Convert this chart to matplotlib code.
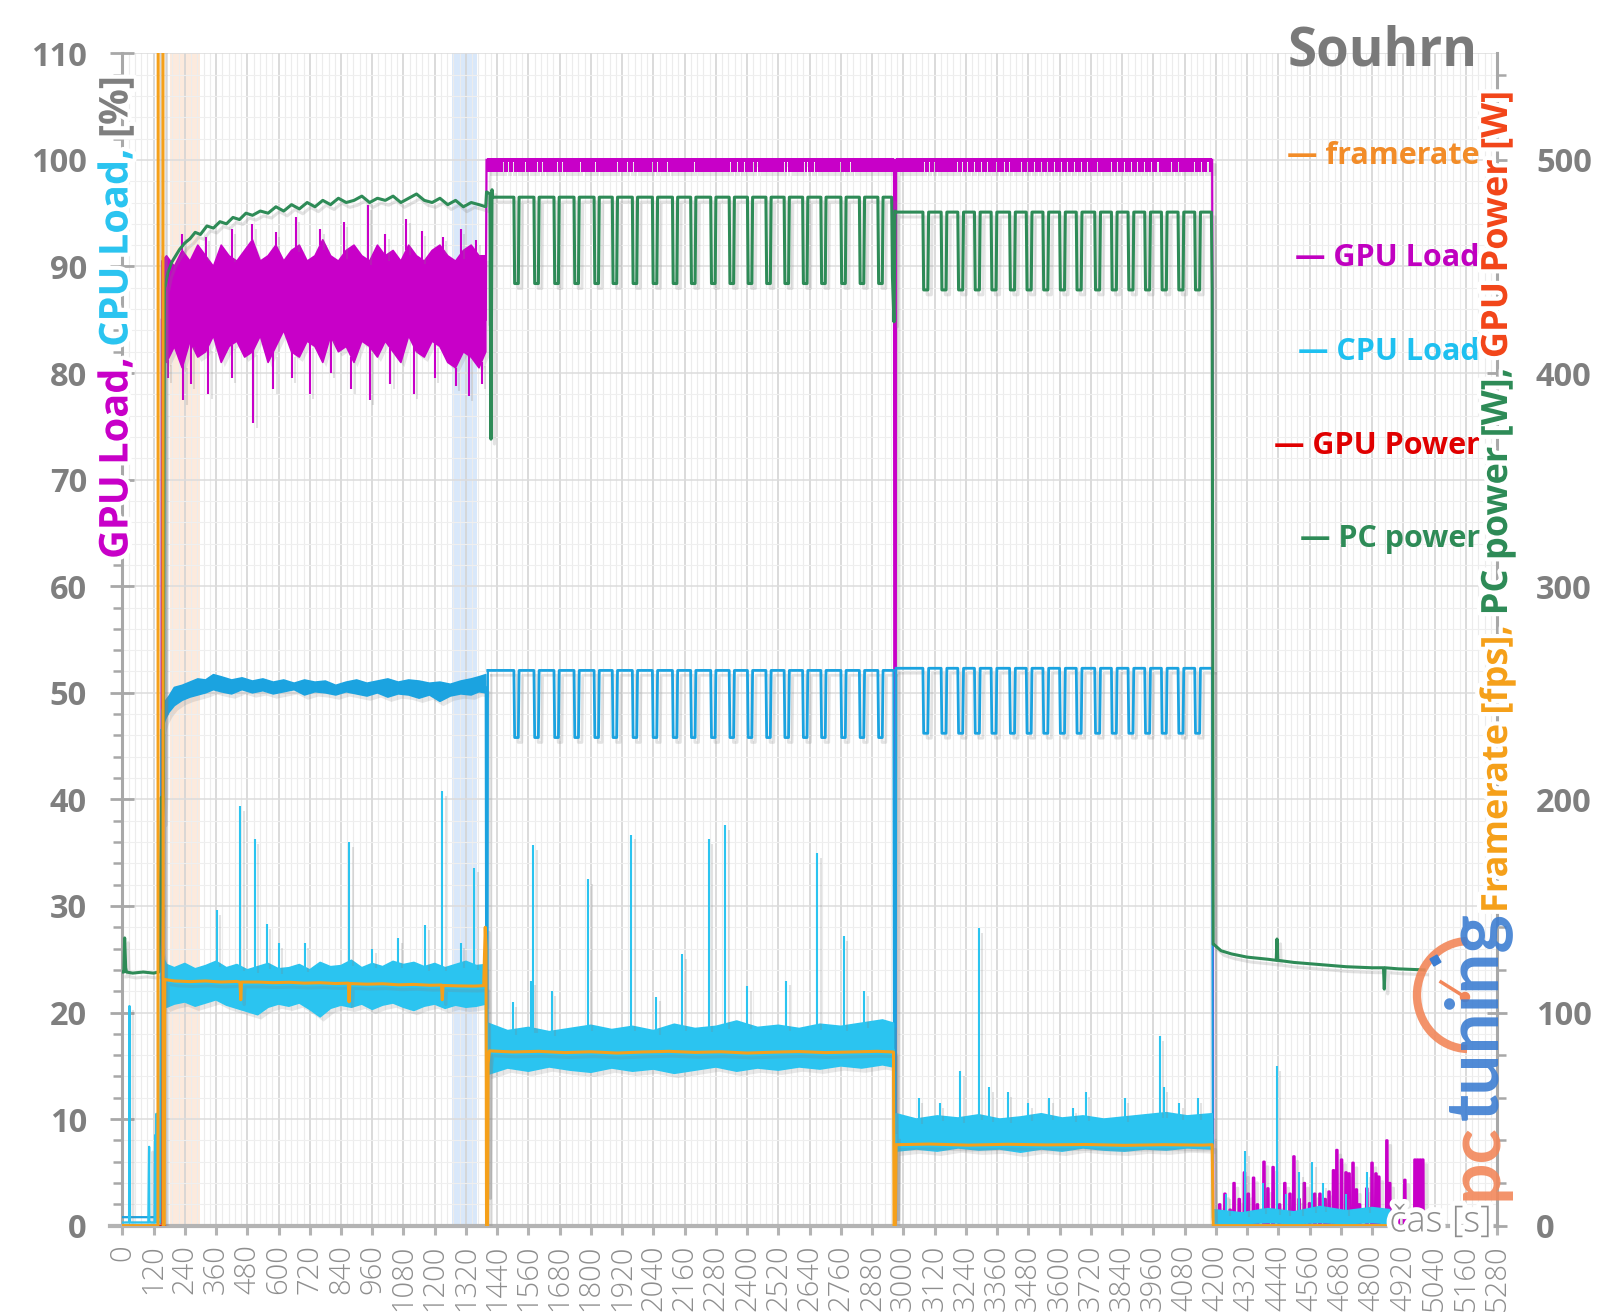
import numpy as np
import matplotlib
matplotlib.use("Agg")
import matplotlib.pyplot as plt
from matplotlib import patheffects as pe
from matplotlib.patches import Arc, Rectangle, Circle
from matplotlib.lines import Line2D
from matplotlib.transforms import IdentityTransform

plt.rcParams['font.family'] = ['Open Sans', 'DejaVu Sans']

# ---------------------------------------------------------------- data
x_ticks = list(range(0, 5281, 120))
left_ticks = list(range(0, 111, 10))
right_ticks = list(range(0, 501, 100))

legend_labels = ["framerate", "GPU Load", "CPU Load", "GPU Power", "PC power"]

# shaded intervals [s]
span_orange = (185, 300)
span_blue = (1265, 1362)

# --- PC power [W] (right axis)
pc_idle_t = [0, 6, 9, 13, 16, 40, 80, 120, 140, 146, 150, 154, 158, 162]
pc_idle_v = [119, 119, 135, 121, 119, 118.5, 119, 118.5, 119, 150, 201, 190, 205, 440]
pc_s1_t = [165, 175, 190, 205, 220, 240, 260, 280, 300, 325, 350, 375, 400, 425, 450, 475,
           500, 530, 560, 590, 620, 650, 680, 710, 740, 770, 800, 830, 860, 890, 920, 950,
           980, 1010, 1040, 1070, 1100, 1130, 1160, 1190, 1220, 1250, 1280, 1310, 1340, 1370, 1396]
pc_s1_v = [441, 447, 452, 455, 458, 461, 463, 466, 465, 469, 468, 471, 470, 473, 472, 475,
           474, 476, 475, 478, 476, 479, 477, 480, 478, 481, 479, 482, 480, 481, 483, 480,
           482, 481, 483, 480, 482, 484, 481, 480, 482, 479, 481, 478, 480, 479, 478]
pc_tr1_t = [1399, 1412, 1416, 1420]
pc_tr1_v = [485, 484, 369, 486]
pc_s2_hi, pc_s2_lo = 482.5, 442
dips_s2 = [1504, 1581, 1658, 1735, 1812, 1882, 1959, 2036, 2113, 2183, 2260, 2331,
           2401, 2472, 2542, 2613, 2683, 2760, 2831, 2902]
pc_tr2_t = [2958, 2964, 2968]
pc_tr2_v = [445, 424, 476]
pc_s3_hi, pc_s3_lo = 475.5, 439
dips_s3 = [3075, 3145, 3209, 3273, 3337, 3408, 3472, 3536, 3600, 3664, 3735, 3799,
           3863, 3927, 3991, 4055, 4119]
pc_tr3_t = [4186, 4190]
pc_tr3_v = [440, 132]
pc_s4_t = [4192, 4220, 4260, 4320, 4400, 4432, 4435, 4438, 4500, 4600, 4700, 4800, 4844, 4847, 4850, 4900, 5000]
pc_s4_v = [132, 129, 127.5, 126, 125, 124.5, 134.5, 124.5, 123.5, 122.5, 121.5, 121, 121, 111, 121, 120.5, 120]

# --- GPU power [W] (right axis)
gpu_pw_t = [0, 154, 155, 157, 158, 165]
gpu_pw_v = [0, 0, 455, 455, 0, 0]

# --- framerate [fps] (right axis)
fps_idle_t = [0, 137, 138, 156, 157, 161, 163]
fps_idle_v = [0, 0, 700, 700, 0, 0, 115.5]
fps_s1_t = [163, 200, 260, 320, 380, 440, 452, 455, 458, 520, 580, 640, 700, 760, 820, 868, 871,
            874, 940, 1000, 1060, 1120, 1180, 1226, 1229, 1232, 1290, 1350, 1388, 1394, 1397]
fps_s1_v = [115.5, 114.8, 114.5, 114.8, 114.3, 114.6, 114.2, 106, 114.3, 114.3, 114.0, 114.2,
            113.8, 114.0, 113.6, 113.8, 105, 113.6, 113.3, 113.5, 113.0, 113.2, 112.8, 112.9,
            106, 112.7, 112.5, 112.4, 112.6, 140, 130]
fps_tr1_t = [1399, 1403, 1405, 1410]
fps_tr1_v = [0, 0, 76, 82]
fps_s2_t = [1410, 1500, 1600, 1700, 1800, 1900, 2000, 2100, 2200, 2300, 2400, 2500, 2600,
            2700, 2800, 2900, 2962]
fps_s2_v = [82, 81.5, 81.8, 81.2, 81.6, 81.0, 81.5, 81.8, 81.3, 81.6, 81.0, 81.4, 81.7,
            81.2, 81.5, 81.8, 81.5]
fps_tr2_t = [2964, 2969]
fps_tr2_v = [0, 0]
fps_s3_t = [2972, 3100, 3250, 3400, 3550, 3700, 3850, 4000, 4150, 4186]
fps_s3_v = [38, 38.3, 37.8, 38.2, 37.9, 38.1, 37.7, 38.0, 37.8, 38.0]
fps_s4_t = [4190, 4868]
fps_s4_v = [0, 0]

# --- GPU load [%] (left axis)
gpu_idle_t = [0, 150, 152]
gpu_idle_v = [0, 0, 85]
gpu_s1_t = [152, 170, 200, 230, 260, 290, 320, 350, 380, 410, 440, 470, 500, 530, 560, 590,
            620, 650, 680, 710, 740, 770, 800, 830, 860, 890, 920, 950, 980, 1010, 1040, 1070,
            1100, 1130, 1160, 1190, 1220, 1250, 1280, 1310, 1340, 1370, 1396]
gpu_s1_hi = [90.5, 91.0, 90.0, 91.5, 90.5, 92.0, 91.0, 90.0, 92.0, 91.0,
             90.5, 91.5, 92.5, 90.5, 91.0, 92.0, 90.5, 91.5, 92.0, 90.5,
             91.0, 92.5, 91.0, 90.5, 91.5, 92.0, 91.0, 90.5, 92.0, 91.0,
             91.5, 90.5, 92.0, 91.0, 90.5, 91.5, 92.0, 91.0, 90.5, 91.5,
             92.0, 91.0, 91.0]
gpu_s1_lo = [83.0, 81.0, 82.5, 80.5, 83.0, 81.5, 82.0, 83.5, 81.0, 82.5,
             83.0, 81.5, 82.0, 83.5, 81.0, 82.5, 84.0, 82.0, 81.5, 83.0,
             82.5, 81.0, 83.5, 82.0, 82.5, 81.0, 83.0, 82.5, 81.5, 83.0,
             82.0, 81.0, 83.5, 82.0, 81.5, 83.0, 82.5, 81.0, 80.5, 82.0,
             81.5, 80.5, 82.0]
gpu_up_t = [230, 320, 420, 500, 590, 667, 760, 850, 942, 1010, 1090, 1150, 1230, 1300, 1360]
gpu_up_v = [93, 92.8, 93.5, 94, 93.2, 94.6, 93.5, 94.2, 95.8, 93, 94.5, 93.3, 92.8, 93.5, 92.5]
gpu_dn_t = [175, 235, 262, 330, 420, 503, 580, 650, 720, 800, 880, 950, 1030, 1120, 1200, 1280, 1330, 1380]
gpu_dn_v = [79.5, 77.5, 79, 78, 79.5, 75.3, 78.5, 79.5, 78, 80, 78.5, 77.5, 79, 78, 79.5, 78.8, 77.8, 79]
gpu_tr1_t = [1396, 1399]
gpu_tr1_v = [85, 100]
gpu_full, gpu_band_low = 100, 98.9
gpu_notch_s2 = [1465, 1485, 1504, 1549, 1593, 1613, 1670, 1690, 1760, 1818, 1901, 1940, 1965,
                2036, 2055, 2093, 2196, 2337, 2362, 2388, 2426, 2439, 2542, 2555, 2619, 2632,
                2657, 2760, 2798]
gpu_tr2_t = [2964, 2966, 2970, 2972]
gpu_tr2_v = [100, 0, 0, 100]
gpu_notch_s3 = [3081, 3100, 3119, 3209, 3228, 3247, 3273, 3299, 3324, 3356, 3388, 3408, 3452,
                3478, 3504, 3529, 3555, 3581, 3606, 3632, 3657, 3683, 3709, 3747, 3799, 3824,
                3850, 3876, 3901, 3927, 3952, 3978, 4029, 4055, 4119, 4145, 4170]
gpu_tr3_t = [4186, 4187, 4190]
gpu_tr3_v = [100, 88, 0]
gpu_s4_t = [4215, 4235, 4255, 4270, 4290, 4310, 4325, 4345, 4360, 4385, 4400, 4420, 4445,
            4465, 4485, 4500, 4520, 4540, 4560, 4580, 4600, 4620, 4635, 4652, 4665, 4683,
            4700, 4712, 4727, 4740, 4752, 4780, 4800, 4815, 4826, 4857, 4868, 4900, 4926,
            4965, 4975, 4985, 4995]
gpu_s4_v = [2, 3, 1.5, 4, 2.5, 5, 3, 4.5, 2, 6, 3.5, 5.5, 2, 4, 3, 6.5, 2.5, 4, 2.1, 3, 3,
            2.5, 3.2, 5.2, 7.1, 6.2, 5, 4.9, 5.9, 3.4, 2, 3.5, 5.9, 4.9, 4.6, 8, 4, 2, 4.3,
            6.2, 6.2, 6.2, 6.2]

# --- CPU load, upper trace [%] (left axis)
cput_idle_t = [0, 146, 150]
cput_idle_v = [0.8, 0.8, 46.5]
cput_s1_t = [152, 165, 180, 200, 230, 260, 290, 320, 350, 380, 420, 460, 500, 540, 580, 620,
             660, 700, 740, 780, 820, 860, 900, 940, 980, 1020, 1060, 1100, 1140, 1180, 1220,
             1260, 1300, 1340, 1370, 1396]
cput_s1_lo = [46.5, 47.5, 48.2, 48.8, 49.3, 49.6, 49.8, 50.0, 50.3, 50.1, 49.9, 50.3, 50.0, 50.2,
              49.9, 50.1, 50.3, 49.8, 50.1, 50.0, 49.8, 50.1, 49.9, 49.7, 50.0, 49.6, 49.9, 49.8,
              49.5, 49.8, 49.2, 49.7, 49.9, 49.8, 50.1, 50.0]
cput_s1_hi = [48.3, 49.2, 49.7, 50.5, 50.7, 51.0, 51.3, 51.2, 51.7, 51.5, 51.2, 51.4, 51.1, 51.3,
              51.0, 51.2, 50.9, 51.2, 51.0, 51.1, 50.7, 51.0, 51.2, 50.9, 51.1, 51.3, 51.0, 51.2,
              51.1, 50.9, 51.0, 50.8, 51.1, 51.3, 51.5, 51.7]
cput_tr1_t = [1396, 1399, 1402, 1404]
cput_tr1_v = [50.5, 3, 3, 52.1]
cput_s2_hi, cput_s2_lo = 52.1, 45.8
cput_tr2_t = [2962, 2965, 2970, 2972]
cput_tr2_v = [52.1, 1, 1, 52.3]
cput_s3_hi, cput_s3_lo = 52.3, 46.2
cput_tr3_t = [4186, 4189, 4868]
cput_tr3_v = [52.3, 0.5, 0.5]

# --- CPU load, lower trace [%] (left axis)
cpul_idle_t = [0, 26, 27, 28, 29, 100, 103, 104, 105, 124, 126, 127, 128, 131, 133, 134, 146, 150]
cpul_idle_v = [0.3, 0.3, 20.6, 20.6, 0.3, 0.3, 7.4, 0.3, 0.3, 0.3, 8.5, 0.3, 0.3, 10.5, 0.3, 0.3, 0.3, 30]
cpul_s1_t = [152, 160, 170, 200, 240, 280, 320, 360, 400, 440, 480, 520, 560, 600, 640, 680, 720,
             760, 800, 840, 880, 920, 960, 1000, 1040, 1080, 1120, 1160, 1200, 1240, 1280, 1320,
             1360, 1396]
cpul_s1_lo = [20, 21, 20.5, 20.8, 21, 20.6, 20.9, 21.2, 20.7, 20.4, 20.1, 19.8, 20.5, 20.8, 20.6,
              20.9, 20.3, 19.6, 20.4, 20.7, 20.5, 20.8, 20.3, 20.7, 20.9, 20.5, 20.2, 20.6, 20.8,
              20.4, 20.7, 20.5, 20.6, 20.8]
cpul_s1_hi = [26, 25, 24.5, 24.2, 24.6, 24.1, 24.4, 24.8, 24.2, 24.5, 24.0, 24.3, 24.6, 24.1, 24.2,
              24.5, 24.0, 24.7, 24.3, 24.4, 24.9, 24.2, 24.6, 24.3, 24.8, 24.5, 24.7, 24.3, 24.6,
              24.2, 24.5, 24.8, 24.4, 24.5]
cpul_sp1_t = [363, 453, 508, 555, 600, 700, 872, 960, 1060, 1163, 1229, 1300, 1351]
cpul_sp1_v = [29.6, 39.4, 36.3, 28.3, 26.5, 26.5, 36.0, 26.0, 27.0, 28.2, 40.8, 26.5, 33.6]
cpul_tr1_t = [1396, 1399, 1402, 1405]
cpul_tr1_v = [22.5, 3, 3, 16.5]
cpul_s2_t = [1404, 1480, 1560, 1640, 1720, 1800, 1880, 1960, 2040, 2120, 2200, 2280, 2360, 2440,
             2520, 2600, 2680, 2760, 2840, 2920, 2962]
cpul_s2_lo = [14.2, 14.8, 14.5, 14.9, 14.6, 14.4, 14.8, 14.5, 14.7, 14.3, 14.6, 14.9, 14.5, 14.8,
              14.6, 14.9, 14.7, 15.0, 14.8, 15.1, 14.9]
cpul_s2_hi = [19, 18.3, 18.6, 18.2, 18.5, 18.8, 18.4, 18.7, 18.3, 18.9, 18.5, 18.7, 19.2, 18.6,
              18.8, 18.5, 18.9, 18.7, 19.0, 19.3, 19.0]
cpul_sp2_t = [1500, 1570, 1578, 1650, 1790, 1955, 2050, 2151, 2253, 2316, 2400, 2550, 2669, 2771, 2850]
cpul_sp2_v = [21, 23.0, 35.7, 22, 32.5, 36.7, 21.5, 25.5, 36.3, 37.6, 22.5, 23, 35.0, 27.2, 22]
cpul_tr2_t = [2962, 2965, 2970, 2973]
cpul_tr2_v = [16.5, 1, 1, 8.5]
cpul_s3_t = [2972, 3050, 3130, 3210, 3290, 3370, 3450, 3530, 3610, 3690, 3770, 3850, 3930, 4010,
             4090, 4186]
cpul_s3_lo = [7.0, 7.2, 7.0, 7.3, 7.1, 7.2, 6.9, 7.2, 7.0, 7.3, 7.1, 7.0, 7.2, 7.1, 7.3, 7.2]
cpul_s3_hi = [10.5, 10.0, 10.3, 10.1, 10.4, 10.0, 10.2, 10.5, 10.1, 10.3, 10.0, 10.2, 10.4, 10.6,
              10.3, 10.5]
cpul_sp3_t = [3060, 3140, 3219, 3289, 3330, 3400, 3480, 3560, 3650, 3700, 3850, 3984, 4000, 4060, 4130]
cpul_sp3_v = [12, 11.5, 14.5, 27.9, 13, 12.5, 11.5, 12, 11, 12.5, 12, 17.8, 13, 11.5, 12]
cpul_tr3_t = [4186, 4189]
cpul_tr3_v = [8.5, 0.8]
cpul_s4_t = [4190, 4300, 4400, 4500, 4600, 4700, 4800, 4868]
cpul_s4_lo = [0.2, 0.2, 0.3, 0.2, 0.3, 0.2, 0.3, 0.2]
cpul_s4_hi = [1.5, 1.2, 1.6, 1.3, 1.8, 1.4, 1.7, 1.5]
cpul_sp4_t = [4240, 4313, 4380, 4435, 4470, 4520, 4570, 4610, 4700, 4780]
cpul_sp4_v = [3, 7, 4, 15, 3, 5, 6, 4, 3, 5]

# ---------------------------------------------------------------- style
C_GPU = '#C800C8'
C_PC = '#2E8B57'
C_CPU = '#2BC4F0'
C_CPU_TOP = '#1BA3E0'
C_FPS = '#F5A01A'
C_GPUP = '#E00000'
GRAY = '#7F7F7F'
XGRAY = '#8E8E8E'
DIP_LEN2, DIP_LEN3, RAMP = 20, 22, 3
NOTCH_W = 4
BAR_HALF = 3

SH_LINE = [pe.SimpleLineShadow(offset=(2.5, -3.5), shadow_color='#808080', alpha=0.22), pe.Normal()]
SH_POLY = [pe.SimplePatchShadow(offset=(2.5, -3.5), shadow_rgbFace='#808080', alpha=0.18), pe.Normal()]


def square(t0, t1, dips, dur, hi, lo):
    t, v = [t0], [hi]
    for d in dips:
        t += [d, d + RAMP, d + dur - RAMP, d + dur]
        v += [hi, lo, lo, hi]
    t.append(t1)
    v.append(hi)
    return t, v


def notched(t0, t1, notches, base, top):
    t, lo = [t0], [base]
    for n in notches:
        t += [n - NOTCH_W / 2, n - NOTCH_W / 2, n + NOTCH_W / 2, n + NOTCH_W / 2]
        lo += [base, top, top, base]
    t.append(t1)
    lo.append(base)
    return t, lo


def bars(times, vals):
    t, v = [], []
    for a, b in zip(times, vals):
        t += [a - BAR_HALF, a - BAR_HALF + 1, a + BAR_HALF - 1, a + BAR_HALF]
        v += [0, b, b, 0]
    return t, v


def line(axx, t, v, color, lw=1.6, z=3):
    axx.plot(t, v, color=color, lw=lw, zorder=z, path_effects=SH_LINE, solid_joinstyle='round')


def band(axx, t, lo, hi, color, z=3):
    axx.fill_between(t, lo, hi, facecolor=color, edgecolor=color, lw=1.2, zorder=z,
                     path_effects=SH_POLY)


def spikes(axx, t, base_t, base_v, v, color, z=3):
    base = np.interp(t, base_t, base_v)
    lc = axx.vlines(t, base, v, colors=color, lw=1.5, zorder=z)
    lc.set_path_effects(SH_LINE)


FW, FH = 1600, 1314
fig = plt.figure(figsize=(FW / 100, FH / 100), dpi=100, facecolor='white')
ax = fig.add_axes([122.3 / FW, 88.3 / FH, 1374.7 / FW, 1172.4 / FH])
ax2 = ax.twinx()

ax.set_xlim(0, 5280)
ax.set_ylim(0, 110)
ax2.set_ylim(0, 550)

# spans
ax.axvspan(*span_orange, color='#FBE3D2', alpha=0.75, zorder=0.2, lw=0)
ax.axvspan(*span_blue, color='#D3E4FA', alpha=0.85, zorder=0.2, lw=0)

# grid
ax.set_axisbelow(True)
ax.set_xticks(x_ticks)
ax.set_xticks(np.arange(0, 5281, 24), minor=True)
ax.set_yticks(left_ticks)
ax.set_yticks(np.arange(0, 111, 2), minor=True)
ax2.set_yticks(right_ticks)
ax2.set_yticks(np.arange(0, 551, 20), minor=True)
ax.grid(which='major', axis='x', color='#d4d4d4', lw=1.2)
ax.grid(which='minor', axis='x', color='#ececec', lw=0.8)
ax.grid(which='major', axis='y', color='#dcdcdc', lw=1.1)
ax.grid(which='minor', axis='y', color='#efefef', lw=0.8)

# ---- left-axis series
# GPU load
line(ax, gpu_idle_t, gpu_idle_v, C_GPU, z=2)
band(ax, gpu_s1_t, gpu_s1_lo, gpu_s1_hi, C_GPU, z=2)
spikes(ax, gpu_up_t, gpu_s1_t, gpu_s1_hi, gpu_up_v, C_GPU, z=2)
spikes(ax, gpu_dn_t, gpu_s1_t, gpu_s1_lo, gpu_dn_v, C_GPU, z=2)
line(ax, gpu_tr1_t, gpu_tr1_v, C_GPU, z=2)
nt, nlo = notched(1399, 2964, gpu_notch_s2, gpu_band_low, gpu_full - 0.2)
ax.fill_between(nt, nlo, gpu_full + 0.15, color=C_GPU, lw=0, zorder=2, path_effects=SH_POLY)
line(ax, gpu_tr2_t, gpu_tr2_v, C_GPU, z=2)
nt, nlo = notched(2972, 4186, gpu_notch_s3, gpu_band_low, gpu_full - 0.2)
ax.fill_between(nt, nlo, gpu_full + 0.15, color=C_GPU, lw=0, zorder=2, path_effects=SH_POLY)
line(ax, gpu_tr3_t, gpu_tr3_v, C_GPU, z=2)
bt, bv = bars(gpu_s4_t, gpu_s4_v)
line(ax, [4190] + bt, [0] + bv, C_GPU, lw=1.8, z=2)

# CPU load upper trace
line(ax, cput_idle_t, cput_idle_v, C_CPU_TOP)
band(ax, cput_s1_t, cput_s1_lo, cput_s1_hi, C_CPU_TOP)
line(ax, cput_tr1_t, cput_tr1_v, C_CPU_TOP)
t2, v2 = square(1404, 2962, dips_s2, DIP_LEN2, cput_s2_hi, cput_s2_lo)
line(ax, t2, v2, C_CPU_TOP, lw=2)
line(ax, cput_tr2_t, cput_tr2_v, C_CPU_TOP)
t3, v3 = square(2972, 4186, dips_s3, DIP_LEN3, cput_s3_hi, cput_s3_lo)
line(ax, t3, v3, C_CPU_TOP, lw=2)
line(ax, cput_tr3_t, cput_tr3_v, C_CPU_TOP)

# CPU load lower trace
line(ax, cpul_idle_t, cpul_idle_v, C_CPU, z=3)
for st, slo, shi, spt, spv in [(cpul_s1_t, cpul_s1_lo, cpul_s1_hi, cpul_sp1_t, cpul_sp1_v),
                               (cpul_s2_t, cpul_s2_lo, cpul_s2_hi, cpul_sp2_t, cpul_sp2_v),
                               (cpul_s3_t, cpul_s3_lo, cpul_s3_hi, cpul_sp3_t, cpul_sp3_v),
                               (cpul_s4_t, cpul_s4_lo, cpul_s4_hi, cpul_sp4_t, cpul_sp4_v)]:
    band(ax, st, slo, shi, C_CPU)
    spikes(ax, spt, st, shi, spv, C_CPU)
line(ax, cpul_tr1_t, cpul_tr1_v, C_CPU)
line(ax, cpul_tr2_t, cpul_tr2_v, C_CPU)
line(ax, cpul_tr3_t, cpul_tr3_v, C_CPU)

# ---- right-axis series
line(ax2, gpu_pw_t, gpu_pw_v, C_GPUP, lw=1.2, z=1)
pc_t2, pc_v2 = square(1422, 2955, dips_s2, DIP_LEN2, pc_s2_hi, pc_s2_lo)
pc_t3, pc_v3 = square(2972, 4183, dips_s3, DIP_LEN3, pc_s3_hi, pc_s3_lo)
pc_t = pc_idle_t + pc_s1_t + pc_tr1_t + pc_t2 + pc_tr2_t + pc_t3 + pc_tr3_t + pc_s4_t
pc_v = pc_idle_v + pc_s1_v + pc_tr1_v + pc_v2 + pc_tr2_v + pc_v3 + pc_tr3_v + pc_s4_v
line(ax2, pc_t, pc_v, C_PC, lw=2.2, z=2)

fps_t = fps_idle_t + fps_s1_t + fps_tr1_t + fps_s2_t + fps_tr2_t + fps_s3_t + fps_s4_t
fps_v = fps_idle_v + fps_s1_v + fps_tr1_v + fps_s2_v + fps_tr2_v + fps_s3_v + fps_s4_v
line(ax2, fps_t, fps_v, C_FPS, lw=2.2, z=3)

# ---------------------------------------------------------------- axes styling
for s in ['top', 'right']:
    ax.spines[s].set_visible(False)
for s in ['top', 'left', 'bottom']:
    ax2.spines[s].set_visible(False)
ax.spines['left'].set_color('#a8a8a8')
ax.spines['left'].set_linewidth(2.2)
ax.spines['bottom'].set_color('#b4b4b4')
ax.spines['bottom'].set_linewidth(3)
ax.spines['bottom'].set_bounds(-47, 5280)
ax.spines['bottom'].set_clip_on(False)
ax2.spines['right'].set_color('#a8a8a8')
ax2.spines['right'].set_linewidth(2.2)

ax.set_xticklabels([str(v) for v in x_ticks], rotation=90, fontsize=21,
                   fontweight='light', color=XGRAY)
ax.set_yticklabels([str(v) for v in left_ticks], fontsize=23.5, fontweight='bold', color=GRAY)
ax2.set_yticklabels([str(v) for v in right_ticks], fontsize=23.5, fontweight='bold', color=GRAY)
ax.tick_params(axis='x', which='major', direction='out', length=6.5, width=2.2,
               color='#b4b4b4', pad=7)
ax.tick_params(axis='x', which='minor', length=0)
ax.tick_params(axis='y', which='major', direction='inout', length=17, width=2,
               color='#a8a8a8', pad=17)
ax.tick_params(axis='y', which='minor', direction='out', length=6.5, width=1.8, color='#a8a8a8')
ax2.tick_params(axis='y', which='major', direction='inout', length=14, width=2,
                color='#a8a8a8', pad=21)
ax2.tick_params(axis='y', which='minor', direction='out', length=6.5, width=1.8, color='#a8a8a8')

# ---------------------------------------------------------------- texts
renderer = fig.canvas.get_renderer()


def text_w(s, size, weight='bold', family=None):
    kw = {} if family is None else {'family': family}
    t = fig.text(0, 0, s, fontsize=size, fontweight=weight, **kw)
    w = t.get_window_extent(renderer).width
    t.remove()
    return w


def stacked_label(x_px, y0_px, pieces, length_px):
    sp10 = text_w('x x', 10) - text_w('xx', 10)
    tot10 = sum(text_w(s, 10) for s, _ in pieces) + sp10 * (len(pieces) - 1)
    size = 10 * length_px / tot10
    sp = sp10 * size / 10
    y = y0_px
    for s, c in pieces:
        fig.text(x_px / FW, y / FH, s, rotation=90, rotation_mode='anchor', ha='left',
                 va='center', fontsize=size, fontweight='bold', color=c, zorder=10,
                 path_effects=[pe.withStroke(linewidth=6, foreground='white')])
        y += text_w(s, size) + sp


stacked_label(117, FH - 559, [("GPU Load,", C_GPU), ("CPU Load,", C_CPU), ("[%]", GRAY)], 482)
stacked_label(1498, FH - 913, [("Framerate [fps],", C_FPS), ("PC power [W],", C_PC),
                               ("GPU Power [W]", '#F2461A')], 823)

# title
fig.text(1478 / FW, 1 - 66 / FH, "Souhrn", ha='right', va='baseline', fontsize=38,
         fontweight='bold', color='#7a7a7a')

# legend (text entries, right aligned)
leg_colors = ['#F28C28', '#C000C0', '#1EC0F0', '#E00000', '#2E8B57']
leg_y = [0.912, 0.825, 0.745, 0.665, 0.586]
for lab, col, yy in zip(legend_labels, leg_colors, leg_y):
    ax2.text(0.9876, yy, "\u2014 " + lab, transform=ax2.transAxes, ha='right', va='center',
             fontsize=22, fontweight='bold', color=col, zorder=10)

# x axis label
fig.text(1492 / FW, 92 / FH, "čas [s]", ha='right', va='center', fontsize=26,
         fontweight='light', color=XGRAY, zorder=10,
         path_effects=[pe.withStroke(linewidth=7, foreground='white')])

# ---------------------------------------------------------------- logo watermark
C_LOGO_O = '#F2875A'
C_LOGO_B = '#3D7ED2'
for s, col, y0, length in [("pc", C_LOGO_O, FH - 1200, 77), ("tuning", C_LOGO_B, FH - 1120, 208)]:
    sz = 10 * length / text_w(s, 10, weight='bold', family='Lato')
    fig.text(1497 / FW, y0 / FH, s, rotation=90, rotation_mode='anchor', ha='left',
             va='baseline', fontsize=sz, family='Lato', fontweight='bold', color=col,
             alpha=0.9, zorder=11)
arc = Arc((1469, FH - 995), 104, 108, theta1=92, theta2=268, lw=6, color=C_LOGO_O,
          alpha=0.9, transform=IdentityTransform(), zorder=11)
fig.add_artist(arc)
fig.add_artist(Line2D([1465, 1441], [FH - 997, FH - 982], lw=2.5, color=C_LOGO_O,
                      transform=IdentityTransform(), zorder=11))
fig.add_artist(Circle((1465, FH - 997), 4.5, color=C_LOGO_O, transform=IdentityTransform(), zorder=11))
fig.add_artist(Rectangle((1434, FH - 966), 8, 8, angle=30, color=C_LOGO_B,
                         transform=IdentityTransform(), zorder=11))

fig.savefig("out.png", dpi=100, facecolor='white')
